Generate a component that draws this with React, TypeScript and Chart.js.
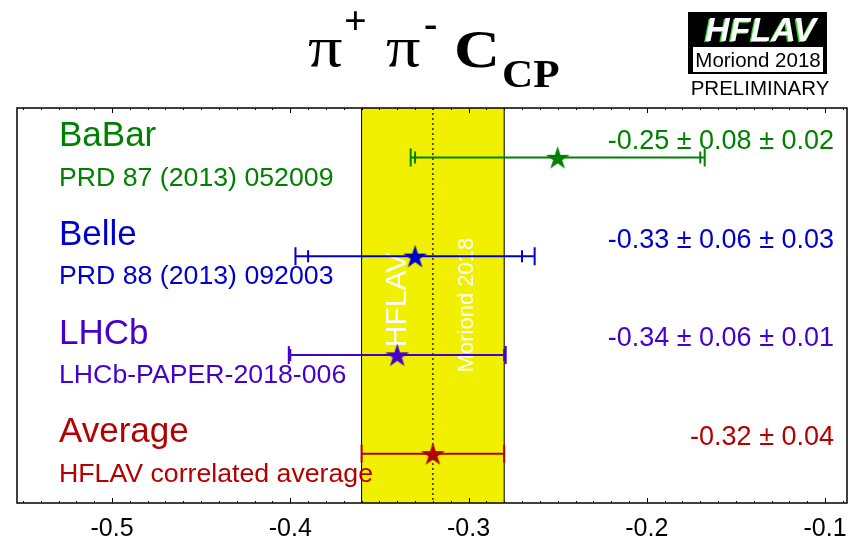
import React, { useEffect, useRef } from 'react';
import { Chart, registerables } from 'chart.js';

Chart.register(...registerables);

const experiments = ['BaBar', 'Belle', 'LHCb', 'Average'];
const references = ['PRD 87 (2013) 052009', 'PRD 88 (2013) 092003', 'LHCb-PAPER-2018-006', 'HFLAV correlated average'];
const centralValues = [-0.25, -0.33, -0.34, -0.32];
const statErrors = [0.08, 0.06, 0.06, 0.04];
const systErrors = [0.02, 0.03, 0.01, 0];
const valueLabels = ['-0.25 ± 0.08 ± 0.02', '-0.33 ± 0.06 ± 0.03', '-0.34 ± 0.06 ± 0.01', '-0.32 ± 0.04'];
const rowPositions = [3.5, 2.5, 1.5, 0.5];
const rowColors = ['#008000', '#0000CC', '#4400CC', '#B30000'];
const xTicks = [-0.5, -0.4, -0.3, -0.2, -0.1];
const xMin = -0.5533;
const xMax = -0.0877;
const averageValue = -0.32;
const averageError = 0.04;

const SANS = '"Liberation Sans", Arial, Helvetica, sans-serif';
const SERIF = '"Liberation Serif", "Times New Roman", serif';

function makeStar(color: string, r: number): HTMLCanvasElement {
  const c = document.createElement('canvas');
  const s = Math.ceil(2 * r + 2);
  c.width = s;
  c.height = s;
  const g = c.getContext('2d')!;
  g.translate(s / 2, s / 2 + r * 0.1);
  g.beginPath();
  for (let i = 0; i < 10; i++) {
    const rad = i % 2 === 0 ? r : r * 0.382;
    const ang = -Math.PI / 2 + (i * Math.PI) / 5;
    const px = rad * Math.cos(ang);
    const py = rad * Math.sin(ang);
    if (i === 0) g.moveTo(px, py);
    else g.lineTo(px, py);
  }
  g.closePath();
  g.fillStyle = color;
  g.fill();
  return c;
}

const hflavPlugin = {
  id: 'hflavPlugin',
  beforeDatasetsDraw(chart: any) {
    const { ctx, chartArea: a, scales } = chart;
    const x = scales.x;
    const y = scales.y;
    ctx.save();
    // average band
    const bl = x.getPixelForValue(averageValue - averageError);
    const br = x.getPixelForValue(averageValue + averageError);
    ctx.fillStyle = 'rgb(240,240,0)';
    ctx.fillRect(bl, a.top, br - bl, a.bottom - a.top);
    ctx.strokeStyle = '#000';
    ctx.lineWidth = 1;
    ctx.beginPath();
    ctx.moveTo(bl, a.top);
    ctx.lineTo(bl, a.bottom);
    ctx.moveTo(br, a.top);
    ctx.lineTo(br, a.bottom);
    ctx.stroke();
    const cx = x.getPixelForValue(averageValue);
    ctx.setLineDash([2, 3]);
    ctx.lineWidth = 1.2;
    ctx.beginPath();
    ctx.moveTo(cx, a.top);
    ctx.lineTo(cx, a.bottom);
    ctx.stroke();
    ctx.setLineDash([]);

    // watermark in band
    ctx.fillStyle = '#fff';
    ctx.textAlign = 'center';
    ctx.textBaseline = 'middle';
    ctx.save();
    ctx.translate(cx - 35, 300);
    ctx.rotate(-Math.PI / 2);
    ctx.font = `30px ${SANS}`;
    ctx.fillText('HFLAV', 0, 0);
    ctx.restore();
    ctx.save();
    ctx.translate(cx + 34, 305);
    ctx.rotate(-Math.PI / 2);
    ctx.font = `22px ${SANS}`;
    ctx.fillText('Moriond 2018', 0, 0);
    ctx.restore();

    // row labels
    for (let i = 0; i < experiments.length; i++) {
      const ry = y.getPixelForValue(rowPositions[i]);
      ctx.fillStyle = rowColors[i];
      ctx.textAlign = 'left';
      ctx.textBaseline = 'middle';
      ctx.font = `35px ${SANS}`;
      ctx.fillText(experiments[i], 59, ry - 21);
      ctx.font = `26.7px ${SANS}`;
      ctx.fillText(references[i], 59, ry + 21);
      ctx.textAlign = 'right';
      ctx.font = `27px ${SANS}`;
      ctx.fillText(valueLabels[i], 834, ry - 16);
    }

    // error bars
    ctx.lineWidth = 2;
    for (let i = 0; i < experiments.length; i++) {
      const ry = y.getPixelForValue(rowPositions[i]);
      const stat = statErrors[i];
      const tot = Math.sqrt(statErrors[i] ** 2 + systErrors[i] ** 2);
      const v = centralValues[i];
      ctx.strokeStyle = rowColors[i];
      const tl = x.getPixelForValue(v - tot);
      const tr = x.getPixelForValue(v + tot);
      ctx.beginPath();
      ctx.moveTo(tl, ry);
      ctx.lineTo(tr, ry);
      ctx.moveTo(tl, ry - 9);
      ctx.lineTo(tl, ry + 9);
      ctx.moveTo(tr, ry - 9);
      ctx.lineTo(tr, ry + 9);
      if (systErrors[i] > 0) {
        const sl = x.getPixelForValue(v - stat);
        const sr = x.getPixelForValue(v + stat);
        ctx.moveTo(sl, ry - 6);
        ctx.lineTo(sl, ry + 6);
        ctx.moveTo(sr, ry - 6);
        ctx.lineTo(sr, ry + 6);
      }
      ctx.stroke();
    }
    ctx.restore();
  },
  afterDatasetsDraw(chart: any) {
    const { ctx, chartArea: a, scales } = chart;
    const x = scales.x;
    ctx.save();
    // frame
    ctx.strokeStyle = '#000';
    ctx.lineWidth = 1.5;
    ctx.strokeRect(a.left, a.top, a.right - a.left, a.bottom - a.top);
    // ticks
    ctx.lineWidth = 1;
    ctx.beginPath();
    for (let k = Math.ceil(xMin * 100); k <= Math.floor(xMax * 100); k++) {
      const px = Math.round(x.getPixelForValue(k / 100)) + 0.5;
      const major = k % 10 === 0;
      const len = major ? 5 : 2;
      ctx.moveTo(px, a.top);
      ctx.lineTo(px, a.top + len);
      ctx.moveTo(px, a.bottom);
      ctx.lineTo(px, a.bottom - len);
    }
    ctx.stroke();

    // title
    ctx.fillStyle = '#000';
    ctx.textAlign = 'left';
    ctx.textBaseline = 'alphabetic';
    ctx.save();
    ctx.translate(308, 66);
    ctx.scale(1.18, 1);
    ctx.font = `58px ${SERIF}`;
    ctx.fillText('π', 0, 0);
    ctx.restore();
    ctx.font = `bold 40px ${SERIF}`;
    ctx.fillText('+', 344, 34);
    ctx.save();
    ctx.translate(386, 66);
    ctx.scale(1.18, 1);
    ctx.font = `58px ${SERIF}`;
    ctx.fillText('π', 0, 0);
    ctx.restore();
    ctx.font = `bold 40px ${SERIF}`;
    ctx.fillText('-', 424, 37);
    ctx.save();
    ctx.translate(454, 67);
    ctx.scale(1.2, 1);
    ctx.font = `bold 53px ${SERIF}`;
    ctx.fillText('C', 0, 0);
    ctx.restore();
    ctx.save();
    ctx.translate(502, 87);
    ctx.scale(1.08, 1);
    ctx.font = `bold 40px ${SERIF}`;
    ctx.fillText('CP', 0, 0);
    ctx.restore();

    // logo
    ctx.fillStyle = '#000';
    ctx.fillRect(688, 12, 139, 62);
    ctx.fillStyle = '#fff';
    ctx.fillRect(693, 47, 130, 25);
    ctx.font = `italic bold 34px ${SANS}`;
    ctx.textAlign = 'center';
    ctx.fillStyle = '#22dd22';
    ctx.fillText('HFLAV', 759, 42);
    ctx.fillStyle = '#fff';
    ctx.fillText('HFLAV', 760.5, 41);
    ctx.fillStyle = '#000';
    ctx.font = `20.5px ${SANS}`;
    ctx.fillText('Moriond 2018', 758, 67);
    ctx.fillText('PRELIMINARY', 760, 95);
    ctx.restore();
  },
};

export default function App() {
  const ref = useRef<HTMLCanvasElement | null>(null);
  useEffect(() => {
    document.body.style.margin = '0';
    const canvas = ref.current!;
    const datasets = experiments.map((name, i) => ({
      label: name,
      data: [{ x: centralValues[i], y: rowPositions[i] }],
      pointStyle: makeStar(rowColors[i], 12.5) as any,
      pointRadius: 12,
      backgroundColor: rowColors[i],
      borderColor: rowColors[i],
      showLine: false,
    }));
    const chart = new Chart(canvas, {
      type: 'scatter',
      data: { datasets },
      options: {
        animation: false,
        responsive: false,
        layout: { autoPadding: false, padding: { top: 108, left: 17, right: 5, bottom: 0 } },
        plugins: { legend: { display: false }, tooltip: { enabled: false } },
        scales: {
          x: {
            type: 'linear',
            min: xMin,
            max: xMax,
            grid: { display: false },
            border: { display: false },
            afterBuildTicks: (s: any) => {
              s.ticks = xTicks.map((v) => ({ value: v }));
            },
            afterFit: (s: any) => {
              s.height = 37;
              s.paddingLeft = 0;
              s.paddingRight = 0;
            },
            ticks: {
              padding: 3,
              color: '#000',
              maxRotation: 0,
              autoSkip: false,
              font: { family: SANS, size: 25 },
              callback: (v: any) => Number(v).toFixed(1),
            },
          },
          y: { type: 'linear', min: 0, max: 4, display: false },
        },
      },
      plugins: [hflavPlugin],
    });
    return () => chart.destroy();
  }, []);
  return (
    <div style={{ width: 852, height: 540 }}>
      <canvas ref={ref} width={852} height={540} />
    </div>
  );
}
